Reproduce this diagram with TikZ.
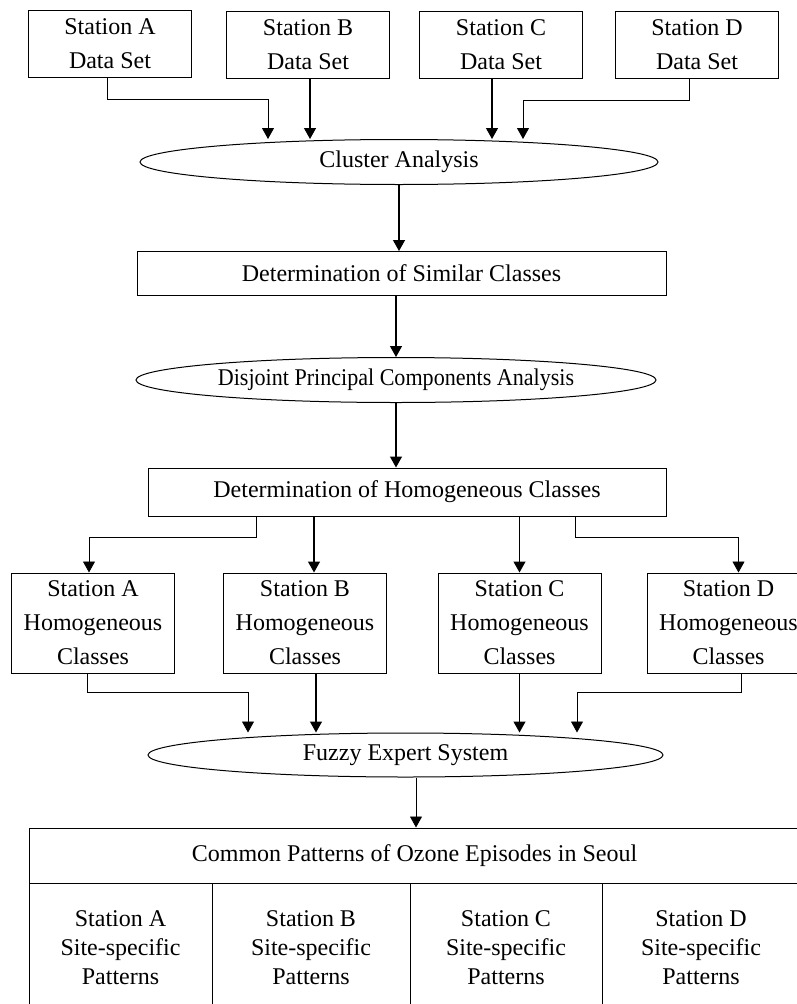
\documentclass[tikz,border=0pt]{standalone}
\usepackage{fontspec}
\setmainfont{Liberation Serif}
\newfontfamily\narrowfont[FakeStretch=0.92]{Liberation Serif}
\usetikzlibrary{arrows.meta,shapes.geometric}

\begin{document}
\begin{tikzpicture}[x=1pt, y=-1pt,
	font=\fontsize{24}{34}\selectfont,
	box/.style={draw, line width=1pt, align=center, inner sep=0pt},
	databox/.style={box, minimum width=163pt, minimum height=67pt},
	homogbox/.style={box, minimum width=163pt, minimum height=100pt},
	stepbox/.style={box, minimum height=44pt},
	oval/.style={draw, line width=1pt, ellipse, inner sep=0pt, minimum height=45pt},
	cell/.style={box, font=\fontsize{24}{29}\selectfont, minimum height=129pt, anchor=north},
	flow/.style={line width=0.8pt, -{Triangle[width=12pt,length=11pt]}},
	bold/.style={line width=1.3pt}]
	\useasboundingbox (0,0) rectangle (796,1004);
	
	% data sets
	\node[databox] (dsA) at (110,44) {Station A\\Data Set};
	\node[databox] (dsB) at (308,45) {Station B\\Data Set};
	\node[databox] (dsC) at (501,45) {Station C\\Data Set};
	\node[databox] (dsD) at (697,45) {Station D\\Data Set};
	
	\node[oval, minimum width=518pt] (cluster) at (399,162) {Cluster Analysis};
	\node[stepbox, minimum width=529pt] (similar) at (401.5,273.5) {Determination of Similar Classes};
	\node[oval, minimum width=520pt] (dpca) at (396,380) {\narrowfont Disjoint Principal Components Analysis};
	\node[stepbox, minimum width=518pt, minimum height=48pt] (homog) at (407,492) {Determination of Homogeneous Classes};
	
	% homogeneous classes
	\node[homogbox] (hA) at (93,623) {Station A\\Homogeneous\\Classes};
	\node[homogbox] (hB) at (305,623) {Station B\\Homogeneous\\Classes};
	\node[homogbox] (hC) at (519.5,623) {Station C\\Homogeneous\\Classes};
	\node[homogbox] (hD) at (728.5,623) {Station D\\Homogeneous\\Classes};
	
	\node[oval, minimum width=515pt, minimum height=44pt] (fuzzy) at (405.5,755) {Fuzzy Expert System};
	
	% result table
	\node[box, minimum width=771pt, minimum height=55pt] (common) at (414.5,855.5) {Common Patterns of Ozone Episodes in Seoul};
	\node[cell, minimum width=183pt] (sA) at (120.5,883) {Station A\\Site-specific\\Patterns};
	\node[cell, minimum width=198pt] (sB) at (311,883) {Station B\\Site-specific\\Patterns};
	\node[cell, minimum width=192pt] (sC) at (506,883) {Station C\\Site-specific\\Patterns};
	\node[cell, minimum width=198pt] (sD) at (701,883) {Station D\\Site-specific\\Patterns};
	
	% connectors
	\draw[flow] ([xshift=-3pt]dsA.south) -- ++(0,21) -| ([xshift=-131pt]cluster.north);
	\draw[flow, bold] ([xshift=2pt]dsB.south) -- ([xshift=-89pt]cluster.north);
	\draw[flow, bold] ([xshift=-9pt]dsC.south) -- ([xshift=93pt]cluster.north);
	\draw[flow] ([xshift=-8pt]dsD.south) -- ++(0,21) -| ([xshift=124pt]cluster.north);
	
	\draw[flow, bold] (cluster.south) -- (cluster.south |- similar.north);
	\draw[flow, bold] (similar.south -| dpca.north) -- (dpca.north);
	\draw[flow, bold] (dpca.south) -- (dpca.south |- homog.north);
	
	\draw[flow] ([xshift=-151pt]homog.south) -- ++(0,21) -| ([xshift=-4pt]hA.north);
	\draw[flow, bold] ([xshift=9pt]hB.north |- homog.south) -- ([xshift=9pt]hB.north);
	\draw[flow, bold] (hC.north |- homog.south) -- (hC.north);
	\draw[flow] ([xshift=168pt]homog.south) -- ++(0,21) -| ([xshift=10pt]hD.north);
	
	\draw[flow] ([xshift=-6pt]hA.south) -- ++(0,19) -| ([xshift=-157.5pt]fuzzy.north);
	\draw[flow, bold] ([xshift=11pt]hB.south) -- ([xshift=11pt]hB.south |- fuzzy.north);
	\draw[flow, bold] (hC.south) -- (hC.south |- fuzzy.north);
	\draw[flow] ([xshift=12.5pt]hD.south) -- ++(0,19) -| ([xshift=171.5pt]fuzzy.north);
	
	\draw[flow] ([xshift=10.5pt]fuzzy.south) -- ([xshift=10.5pt]fuzzy.south |- common.north);
\end{tikzpicture}
\end{document}
